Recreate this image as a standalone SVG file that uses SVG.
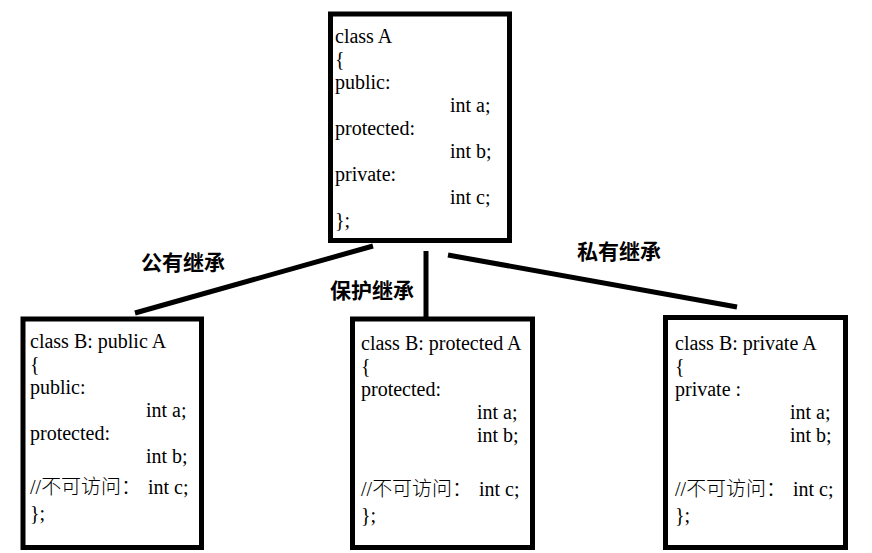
<svg xmlns="http://www.w3.org/2000/svg" width="872" height="553" viewBox="0 0 872 553">
<style>
.box{fill:#fff;stroke:#000;stroke-width:5}
.t{font-family:"Liberation Serif","Noto Sans CJK SC",serif;font-size:20px;fill:#000}
.cj{font-family:"Noto Sans CJK SC",sans-serif;font-size:20px;font-weight:300}
.lbl{font-family:"Noto Sans CJK SC",sans-serif;font-size:21px;font-weight:bold;fill:#000}
.con{stroke:#000;stroke-width:5;fill:none}
</style>
<rect width="872" height="553" fill="#fff"/>
<g id="connectors">
<line class="con" x1="373" y1="246" x2="135" y2="313"/>
<line class="con" x1="426" y1="251" x2="426" y2="317"/>
<line class="con" x1="448" y1="255" x2="737" y2="307"/>
<text class="lbl" x="141" y="270">公有继承</text>
<text class="lbl" x="330" y="298">保护继承</text>
<text class="lbl" x="577" y="259">私有继承</text>
</g>
<g id="classA">
<rect class="box" x="330.5" y="14" width="179" height="226.5"/>
<text class="t" x="335" y="43">class A</text>
<text class="t" x="335" y="66">{</text>
<text class="t" x="335" y="89">public:</text>
<text class="t" x="450" y="112">int a;</text>
<text class="t" x="335" y="135">protected:</text>
<text class="t" x="450" y="158">int b;</text>
<text class="t" x="335" y="181">private:</text>
<text class="t" x="450" y="204">int c;</text>
<text class="t" x="335" y="227">};</text>
</g>
<g id="classB_public">
<rect class="box" x="23" y="319" width="178.5" height="228.5"/>
<text class="t" x="30" y="348">class B: public A</text>
<text class="t" x="30" y="371">{</text>
<text class="t" x="30" y="394">public:</text>
<text class="t" x="146" y="417">int a;</text>
<text class="t" x="30" y="440">protected:</text>
<text class="t" x="146" y="463">int b;</text>
<text class="t" x="30" y="494">//<tspan class="cj">不可访问：</tspan></text>
<text class="t" x="148" y="494">int c;</text>
<text class="t" x="30" y="520">};</text>
</g>
<g id="classB_protected">
<rect class="box" x="352.5" y="319" width="180" height="228.5"/>
<text class="t" x="361" y="350">class B: protected A</text>
<text class="t" x="361" y="373">{</text>
<text class="t" x="361" y="396">protected:</text>
<text class="t" x="477" y="419">int a;</text>
<text class="t" x="477" y="442">int b;</text>
<text class="t" x="361" y="496">//<tspan class="cj">不可访问：</tspan></text>
<text class="t" x="479" y="496">int c;</text>
<text class="t" x="361" y="522">};</text>
</g>
<g id="classB_private">
<rect class="box" x="665.5" y="317.5" width="180" height="230"/>
<text class="t" x="675" y="350">class B: private A</text>
<text class="t" x="675" y="373">{</text>
<text class="t" x="675" y="396">private :</text>
<text class="t" x="790" y="419">int a;</text>
<text class="t" x="790" y="442">int b;</text>
<text class="t" x="675" y="496">//<tspan class="cj">不可访问：</tspan></text>
<text class="t" x="793" y="496">int c;</text>
<text class="t" x="675" y="522">};</text>
</g>
</svg>
